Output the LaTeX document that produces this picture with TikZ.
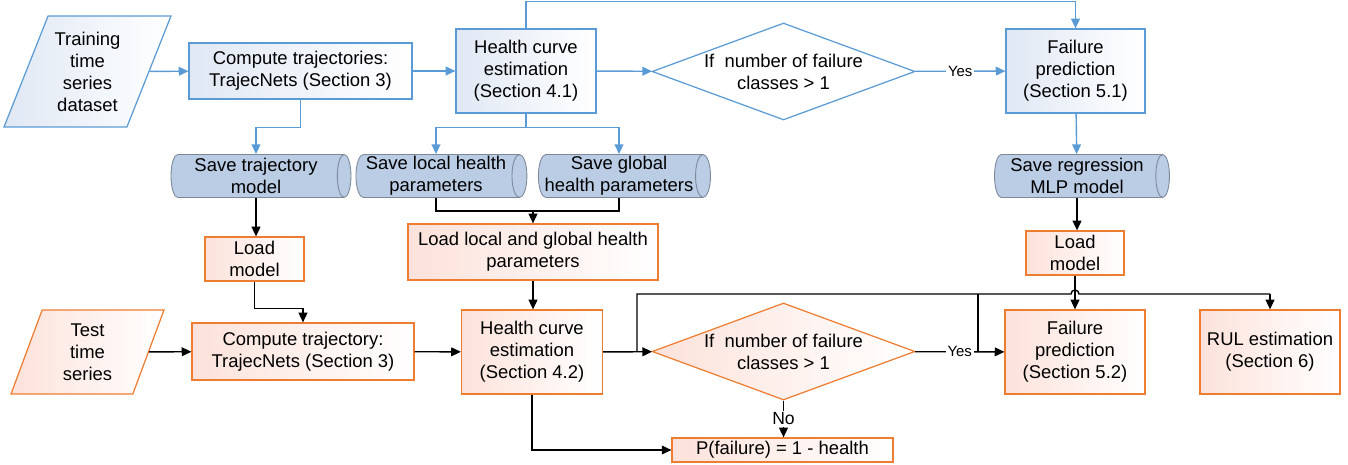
\documentclass[tikz,border=0pt]{standalone}
\usepackage{fontspec}
\setmainfont{Liberation Sans}
\usepackage{xcolor}
\usepackage{tikz}
\usetikzlibrary{positioning, shapes, arrows.meta, calc}

\definecolor{flowblue}{RGB}{91,155,213}
\definecolor{boxblue}{RGB}{224,232,244}
\definecolor{dbfill}{RGB}{186,205,229}
\definecolor{dbline}{RGB}{125,137,155}
\definecolor{floworange}{RGB}{237,125,49}
\definecolor{boxorange}{RGB}{252,226,218}

\begin{document}
\begin{tikzpicture}[x=0.02cm, y=-0.02cm,
    >={Triangle[length=5.5pt, width=5pt]},
    every node/.style={font=\fontsize{10.5}{12.5}\selectfont, align=center},
    trainbox/.style={draw=flowblue, line width=0.7pt, left color=boxblue, right color=white, inner sep=2pt},
    testbox/.style={draw=floworange, line width=0.7pt, left color=boxorange, right color=white, inner sep=2pt},
    datastore/.style={draw=dbline, line width=0.5pt, cylinder, shape aspect=0.35, cylinder uses custom fill,
      cylinder body fill=dbfill, cylinder end fill=dbfill, minimum height=3.42cm, minimum width=0.86cm, inner sep=1pt},
    slanted/.style={trapezium, trapezium left angle=#1, trapezium right angle=180-#1, trapezium stretches body},
    decision/.style={diamond, aspect=2.7, inner sep=0pt, minimum width=5.26cm, minimum height=1.94cm},
    bflow/.style={->, draw=flowblue, line width=0.8pt},
    kflow/.style={->, line width=0.8pt},
    kline/.style={line width=0.8pt},
    lbl/.style={fill=white, inner sep=1pt, font=\fontsize{8.5}{10}\selectfont}]
  \useasboundingbox (0,0) rectangle (1348,465);

  % training
  \node[trainbox, slanted=63, minimum width=3.34cm, minimum height=2.22cm] (train) at (87.5,71.5) {Training\\time\\series\\dataset};
  \node[trainbox, minimum width=4.46cm, minimum height=1.12cm] (ctraj) at (300.5,71) {Compute trajectories:\\TrajecNets (Section 3)};
  \node[trainbox, minimum width=2.8cm, minimum height=1.68cm] (hc1) at (526,71) {Health curve\\estimation\\(Section 4.1)};
  \node[decision, draw=flowblue, line width=0.7pt, fill=white] (dec1) at (783.5,71.5) {If~ number of failure\\classes > 1};
  \node[trainbox, minimum width=2.78cm, minimum height=1.68cm] (fp1) at (1075.5,71) {Failure\\prediction\\(Section 5.1)};

  \node[datastore, minimum height=3.6cm] (savtraj) at (256,176) {Save trajectory\\model};
  \node[datastore] (savloc) at (436,176) {Save local health\\parameters};
  \node[datastore] (savglo) at (619,176) {Save global\\health parameters};
  \node[datastore, minimum height=3.5cm] (savreg) at (1077,176) {Save regression\\MLP model};

  % testing
  \node[testbox, minimum width=1.98cm, minimum height=0.88cm] (loadL) at (254.5,259) {Load\\model};
  \node[testbox, minimum width=5cm, minimum height=1.12cm] (loadLG) at (533,252) {Load local and global health\\parameters};
  \node[testbox, minimum width=1.96cm, minimum height=0.88cm] (loadR) at (1075,253) {Load\\model};

  \node[testbox, slanted=64, minimum width=3.06cm, minimum height=1.68cm] (test) at (87.5,352) {Test\\time\\series};
  \node[testbox, minimum width=4.44cm, minimum height=1.14cm] (ctraj2) at (303,351.5) {Compute trajectory:\\TrajecNets (Section 3)};
  \node[testbox, minimum width=2.82cm, minimum height=1.68cm] (hc2) at (532,352) {Health curve\\estimation\\(Section 4.2)};
  \node[decision, testbox, inner sep=0pt] (dec2) at (783.5,351.5) {If~ number of failure\\classes > 1};
  \node[testbox, minimum width=2.8cm, minimum height=1.68cm] (fp2) at (1075,352) {Failure\\prediction\\(Section 5.2)};
  \node[testbox, minimum width=2.8cm, minimum height=1.68cm] (rul) at (1270,352) {RUL estimation\\(Section 6)};
  \node[testbox, inner sep=1pt, minimum width=4.42cm, minimum height=0.48cm] (pfail) at (782.5,450) {P(failure) = 1 - health};

  \coordinate (mergeLG) at (533,211);
  \coordinate (split) at (637,352);
  \coordinate (busL) at (637,294);
  \coordinate (hopL) at (1071,294);
  \coordinate (busR) at (1270,294);
  \coordinate (yesJ) at (978,294);

  % blue connectors
  \draw[bflow] (train) -- (ctraj);
  \draw[bflow] (ctraj) -- (hc1);
  \draw[bflow] (hc1) -- (dec1);
  \draw[bflow] (dec1) -- node[lbl] {Yes} (fp1);
  \draw[bflow] (hc1.north) -- ++(0,-27) -| (fp1.north);
  \draw[bflow] (ctraj.south) -- ++(0,28) -| (savtraj.north);
  \draw[bflow] (hc1.south) -- ++(0,14) -| (savloc.north);
  \draw[bflow] (hc1.south) -- ++(0,14) -| (savglo.north);
  \draw[bflow] (fp1) -- (savreg);

  % black connectors
  \draw[kflow] (savtraj.south) -- (savtraj.south |- loadL.north);
  \draw[kline] (savloc.south) |- (mergeLG) -| (savglo.south);
  \draw[kflow] (mergeLG) -- (loadLG.north);
  \draw[kflow] (savreg.south) -- (savreg.south |- loadR.north);
  \draw[kflow] (loadL.south) -- ++(0,27) -| (ctraj2.north);
  \draw[kflow] (loadLG.south) -- (loadLG.south |- hc2.north);
  \draw[kflow] (test) -- (ctraj2);
  \draw[kflow] (ctraj2) -- (hc2);
  \draw[kflow] (hc2) -- (dec2);
  \draw[kflow] (dec2) -- node[lbl] {Yes} (fp2);
  \draw[kflow] (dec2.south) -- node[lbl, font=\fontsize{10}{12}\selectfont] {No} (dec2.south |- pfail.north);
  \draw[kflow] (hc2.south) |- (pfail.west);
  \draw[kline] (split) -- (busL) -- (hopL) arc[start angle=180, end angle=0, radius=0.08cm] -- (busR);
  \draw[kflow] (busR) -- (rul.north);
  \draw[kline] (yesJ) -- (yesJ |- fp2.west);
  \draw[kflow] (loadR) -- (fp2);
\end{tikzpicture}
\end{document}
